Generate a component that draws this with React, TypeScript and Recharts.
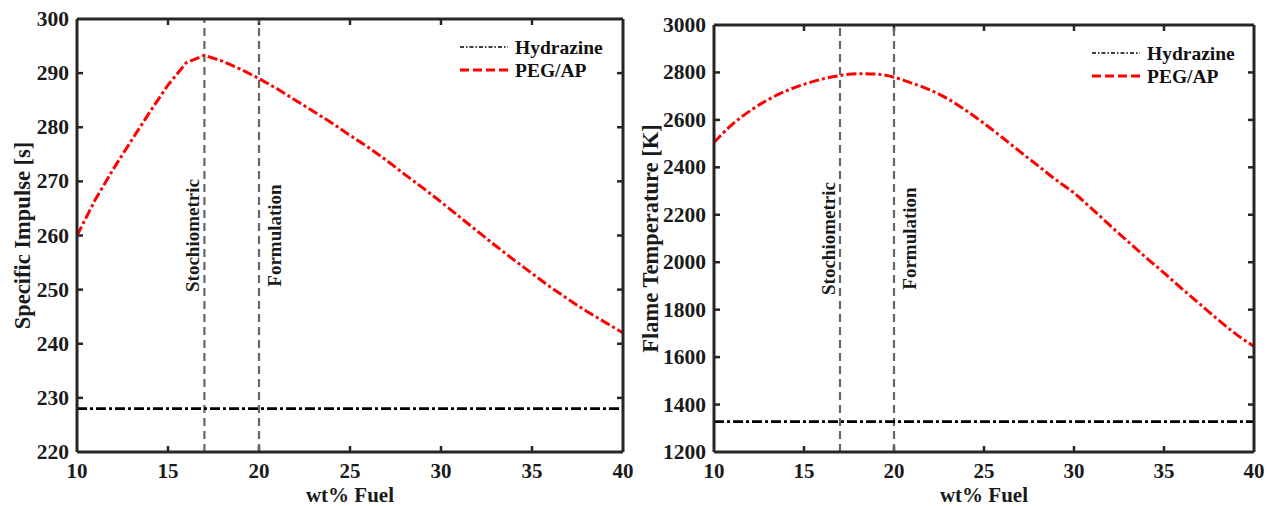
import React from 'react';
import { LineChart, Line, XAxis, YAxis, ReferenceLine } from 'recharts';

const fuelWtPct = [10, 11, 12, 13, 14, 15, 16, 17, 18, 19, 20, 21, 22, 23, 24, 25, 26, 27, 28, 29, 30, 31, 32, 33, 34, 35, 36, 37, 38, 39, 40];
const ispPegAp = [260, 266.6, 272.3, 277.6, 282.8, 287.8, 291.9, 293.3, 292.2, 290.7, 289.0, 287.1, 285.0, 282.9, 280.8, 278.5, 276.3, 273.9, 271.3, 268.8, 266.2, 263.5, 260.8, 258.1, 255.5, 253.0, 250.5, 248.2, 246.0, 244.0, 242.0];
const tempPegAp = [2505, 2580, 2638, 2685, 2722, 2750, 2772, 2787, 2795, 2793, 2780, 2755, 2726, 2688, 2640, 2585, 2527, 2466, 2407, 2347, 2292, 2225, 2155, 2087, 2020, 1955, 1888, 1823, 1758, 1697, 1645];
const hydrazineIsp = 228;
const hydrazineTemp = 1328;

const xTicks = [10, 15, 20, 25, 30, 35, 40];
const ispTicks = [220, 230, 240, 250, 260, 270, 280, 290, 300];
const tempTicks = [1200, 1400, 1600, 1800, 2000, 2200, 2400, 2600, 2800, 3000];
const markers = [
  { x: 17, label: 'Stochiometric' },
  { x: 20, label: 'Formulation' },
];
const seriesNames = { hydrazine: 'Hydrazine', peg: 'PEG/AP' };

const ispData = fuelWtPct.map((f, i) => ({ fuel: f, peg: ispPegAp[i], hydrazine: hydrazineIsp }));
const tempData = fuelWtPct.map((f, i) => ({ fuel: f, peg: tempPegAp[i], hydrazine: hydrazineTemp }));

const FONT = '"Liberation Serif", "Times New Roman", serif';
const AX = '#262626';
const TXT = '#1a1a1a';
const TICK_LEN = 6;

const BottomTick = (p: any) => (
  <text x={p.x} y={p.y + 19} textAnchor="middle" dominantBaseline="central" fontFamily={FONT} fontWeight="bold" fontSize={21} fill={TXT}>
    {p.payload.value}
  </text>
);
const LeftTick = (p: any) => (
  <text x={p.x - 8} y={p.y} textAnchor="end" dominantBaseline="central" fontFamily={FONT} fontWeight="bold" fontSize={21.5} fill={TXT}>
    {p.payload.value}
  </text>
);

const XTickShape = (p: any) => {
  const top = Math.min(p.y1, p.y2);
  const bot = Math.max(p.y1, p.y2);
  return (
    <g>
      <line x1={p.x1} y1={bot} x2={p.x1} y2={bot - TICK_LEN} stroke={AX} strokeWidth={2.5} />
      <line x1={p.x1} y1={top} x2={p.x1} y2={top + TICK_LEN} stroke={AX} strokeWidth={2.5} />
    </g>
  );
};
const YTickShape = (p: any) => {
  const l = Math.min(p.x1, p.x2);
  const r = Math.max(p.x1, p.x2);
  return (
    <g>
      <line x1={l} y1={p.y1} x2={l + TICK_LEN} y2={p.y1} stroke={AX} strokeWidth={2.5} />
      <line x1={r} y1={p.y1} x2={r - TICK_LEN} y2={p.y1} stroke={AX} strokeWidth={2.5} />
    </g>
  );
};

const makeMarkerLabel = (text: string, side: number) => (props: any) => {
  const vb = props.viewBox || {};
  const cx = vb.x + side;
  const cy = vb.y + vb.height / 2;
  return (
    <text x={cx} y={cy} transform={`rotate(-90 ${cx} ${cy})`} textAnchor="middle" dominantBaseline="central" fontFamily={FONT} fontWeight="bold" fontSize={19} fill={TXT}>
      {text}
    </text>
  );
};

const makeYLabel = (text: string, dx: number) => (props: any) => {
  const vb = props.viewBox || {};
  const cx = vb.x + dx;
  const cy = vb.y + vb.height / 2;
  return (
    <text x={cx} y={cy} transform={`rotate(-90 ${cx} ${cy})`} textAnchor="middle" dominantBaseline="central" fontFamily={FONT} fontWeight="bold" fontSize={22.5} fill={TXT}>
      {text}
    </text>
  );
};

const xLabel = (props: any) => {
  const vb = props.viewBox || {};
  return (
    <text x={vb.x + vb.width / 2} y={vb.y + 43} textAnchor="middle" dominantBaseline="central" fontFamily={FONT} fontWeight="bold" fontSize={21} fill={TXT}>
      wt% Fuel
    </text>
  );
};

const LegendBox = ({ left, top }: { left: number; top: number }) => (
  <svg width={170} height={50} style={{ position: 'absolute', left, top, display: 'block' }}>
    <line x1={5} y1={12} x2={53} y2={12} stroke="#000" strokeWidth={1.3} strokeDasharray="4 2 1.5 2" />
    <text x={60} y={12} dominantBaseline="central" fontFamily={FONT} fontWeight="bold" fontSize={19.5} fill="#111">{seriesNames.hydrazine}</text>
    <line x1={5} y1={35} x2={53} y2={35} stroke="#ff0000" strokeWidth={3} strokeDasharray="9 4" />
    <text x={60} y={35} dominantBaseline="central" fontFamily={FONT} fontWeight="bold" fontSize={19.5} fill="#111">{seriesNames.peg}</text>
  </svg>
);

type PanelProps = {
  data: any[];
  width: number;
  margin: any;
  yDomain: [number, number];
  yTicks: number[];
  yLabel: string;
  yLabelDx: number;
  legendPos: { left: number; top: number };
  pegType: 'linear' | 'monotone';
};

const Panel = ({ data, width, margin, yDomain, yTicks, yLabel, yLabelDx, legendPos, pegType }: PanelProps) => (
  <div style={{ position: 'relative', width, height: 506 }}>
    <LineChart width={width} height={506} data={data} margin={margin} style={{ overflow: 'visible' }}>
      <XAxis dataKey="fuel" type="number" domain={[10, 40]} ticks={xTicks} interval={0} height={30}
        axisLine={false} tickLine={false} tickSize={0} tickMargin={0}
        tick={<BottomTick />} label={xLabel} />
      <YAxis type="number" domain={yDomain} ticks={yTicks} interval={0} width={60}
        axisLine={false} tickLine={false} tickSize={0} tickMargin={0}
        tick={<LeftTick />} label={makeYLabel(yLabel, yLabelDx)} />
      {xTicks.slice(1, -1).map((t) => (
        <ReferenceLine key={'xt' + t} x={t} shape={XTickShape} />
      ))}
      {yTicks.slice(1, -1).map((t) => (
        <ReferenceLine key={'yt' + t} y={t} shape={YTickShape} />
      ))}
      {markers.map((m, i) => (
        <ReferenceLine key={m.label} x={m.x} stroke="#676767" strokeWidth={2.2} strokeDasharray="8 5"
          label={makeMarkerLabel(m.label, i === 0 ? -12 : 15)} />
      ))}
      <Line type="linear" dataKey="hydrazine" name={seriesNames.hydrazine} stroke="#000" strokeWidth={2.8}
        strokeDasharray="10 3 3 3" dot={false} isAnimationActive={false} />
      <Line type={pegType} dataKey="peg" name={seriesNames.peg} stroke="#ff0000" strokeWidth={3}
        strokeDasharray="10 3 3 3" dot={false} isAnimationActive={false} />
      <ReferenceLine x={10} stroke={AX} strokeWidth={3} />
      <ReferenceLine x={40} stroke={AX} strokeWidth={3} />
      <ReferenceLine y={yDomain[0]} stroke={AX} strokeWidth={3} />
      <ReferenceLine y={yDomain[1]} stroke={AX} strokeWidth={3} />
    </LineChart>
    <LegendBox left={legendPos.left} top={legendPos.top} />
  </div>
);

export default function App() {
  return (
    <div style={{ position: 'absolute', left: 0, top: 0, width: 1267, height: 506, background: '#fff', display: 'flex' }}>
      <Panel data={ispData} width={635} margin={{ top: 19, right: 12, bottom: 24, left: 17 }}
        yDomain={[220, 300]} yTicks={ispTicks} yLabel="Specific Impulse [s]" yLabelDx={5}
        legendPos={{ left: 455, top: 35 }} pegType="linear" />
      <Panel data={tempData} width={632} margin={{ top: 25, right: 13, bottom: 24, left: 19 }}
        yDomain={[1200, 3000]} yTicks={tempTicks} yLabel="Flame Temperature [K]" yLabelDx={-4}
        legendPos={{ left: 452, top: 41 }} pegType="monotone" />
    </div>
  );
}
